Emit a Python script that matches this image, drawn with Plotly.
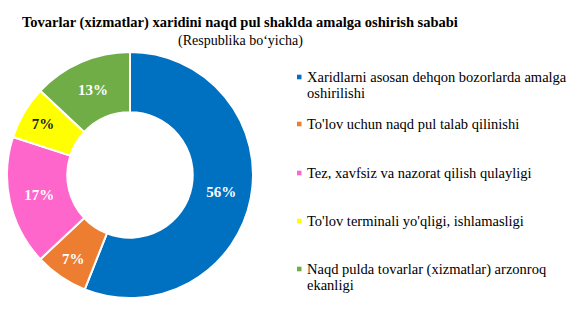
import plotly.graph_objects as go

# Reasons for paying in cash (republic-wide survey shares, %)
labels = [
    "Xaridlarni asosan dehqon bozorlarda amalga<br>oshirilishi",
    "To'lov uchun naqd pul talab qilinishi",
    "Tez, xavfsiz va nazorat qilish qulayligi",
    "To'lov terminali yo'qligi, ishlamasligi",
    "Naqd pulda tovarlar (xizmatlar) arzonroq<br>ekanligi",
]
values = [56, 7, 17, 7, 13]
colors = ["#0070C0", "#ED7D31", "#FF66CC", "#FFFF00", "#70AD47"]
text_colors = ["white", "white", "white", "#222222", "white"]

W, H = 570, 328
serif = "Liberation Serif"

fig = go.Figure(
    go.Pie(
        labels=labels,
        values=values,
        hole=0.51,
        sort=False,
        direction="clockwise",
        rotation=0,
        marker=dict(colors=colors, line=dict(color="white", width=2)),
        texttemplate="<b>%{value}%</b>",
        textposition="inside",
        insidetextorientation="horizontal",
        insidetextfont=dict(family=serif, size=15, color=text_colors),
        domain=dict(x=[7 / W, 253 / W], y=[(H - 298) / H, (H - 52) / H]),
        showlegend=False,
    )
)


def py(pix):
    """Convert a pixel row from the top into paper coordinates."""
    return 1 - pix / H


annotations = [
    dict(
        x=240 / W, y=py(22), xref="paper", yref="paper",
        text="<b>Tovarlar (xizmatlar) xaridini naqd pul shaklda amalga oshirish sababi</b>",
        showarrow=False, font=dict(family=serif, size=14.5, color="black"),
        xanchor="center", yanchor="middle",
    ),
    dict(
        x=240 / W, y=py(41), xref="paper", yref="paper",
        text="(Respublika bo‘yicha)",
        showarrow=False, font=dict(family=serif, size=14, color="black"),
        xanchor="center", yanchor="middle",
    ),
]

# Legend drawn as text entries with square swatches
legend_y = [77, 124, 173, 221, 269]
line_gap = 16
shapes = []
for lab, c, y in zip(labels, colors, legend_y):
    for k, line in enumerate(lab.split("<br>")):
        annotations.append(
            dict(
                x=305 / W, y=py(y + k * line_gap), xref="paper", yref="paper",
                text=line, showarrow=False, align="left",
                font=dict(family=serif, size=14.5, color="black"),
                xanchor="left", yanchor="middle",
            )
        )
    shapes.append(
        dict(
            type="rect", xref="paper", yref="paper",
            x0=297 / W, x1=301.5 / W, y0=py(y + 2.3), y1=py(y - 2.3),
            fillcolor=c, line=dict(width=0),
        )
    )

fig.update_layout(
    width=W, height=H,
    margin=dict(l=0, r=0, t=0, b=0),
    paper_bgcolor="white",
    font=dict(family=serif),
    annotations=annotations,
    shapes=shapes,
)

fig.write_html("out.html")
